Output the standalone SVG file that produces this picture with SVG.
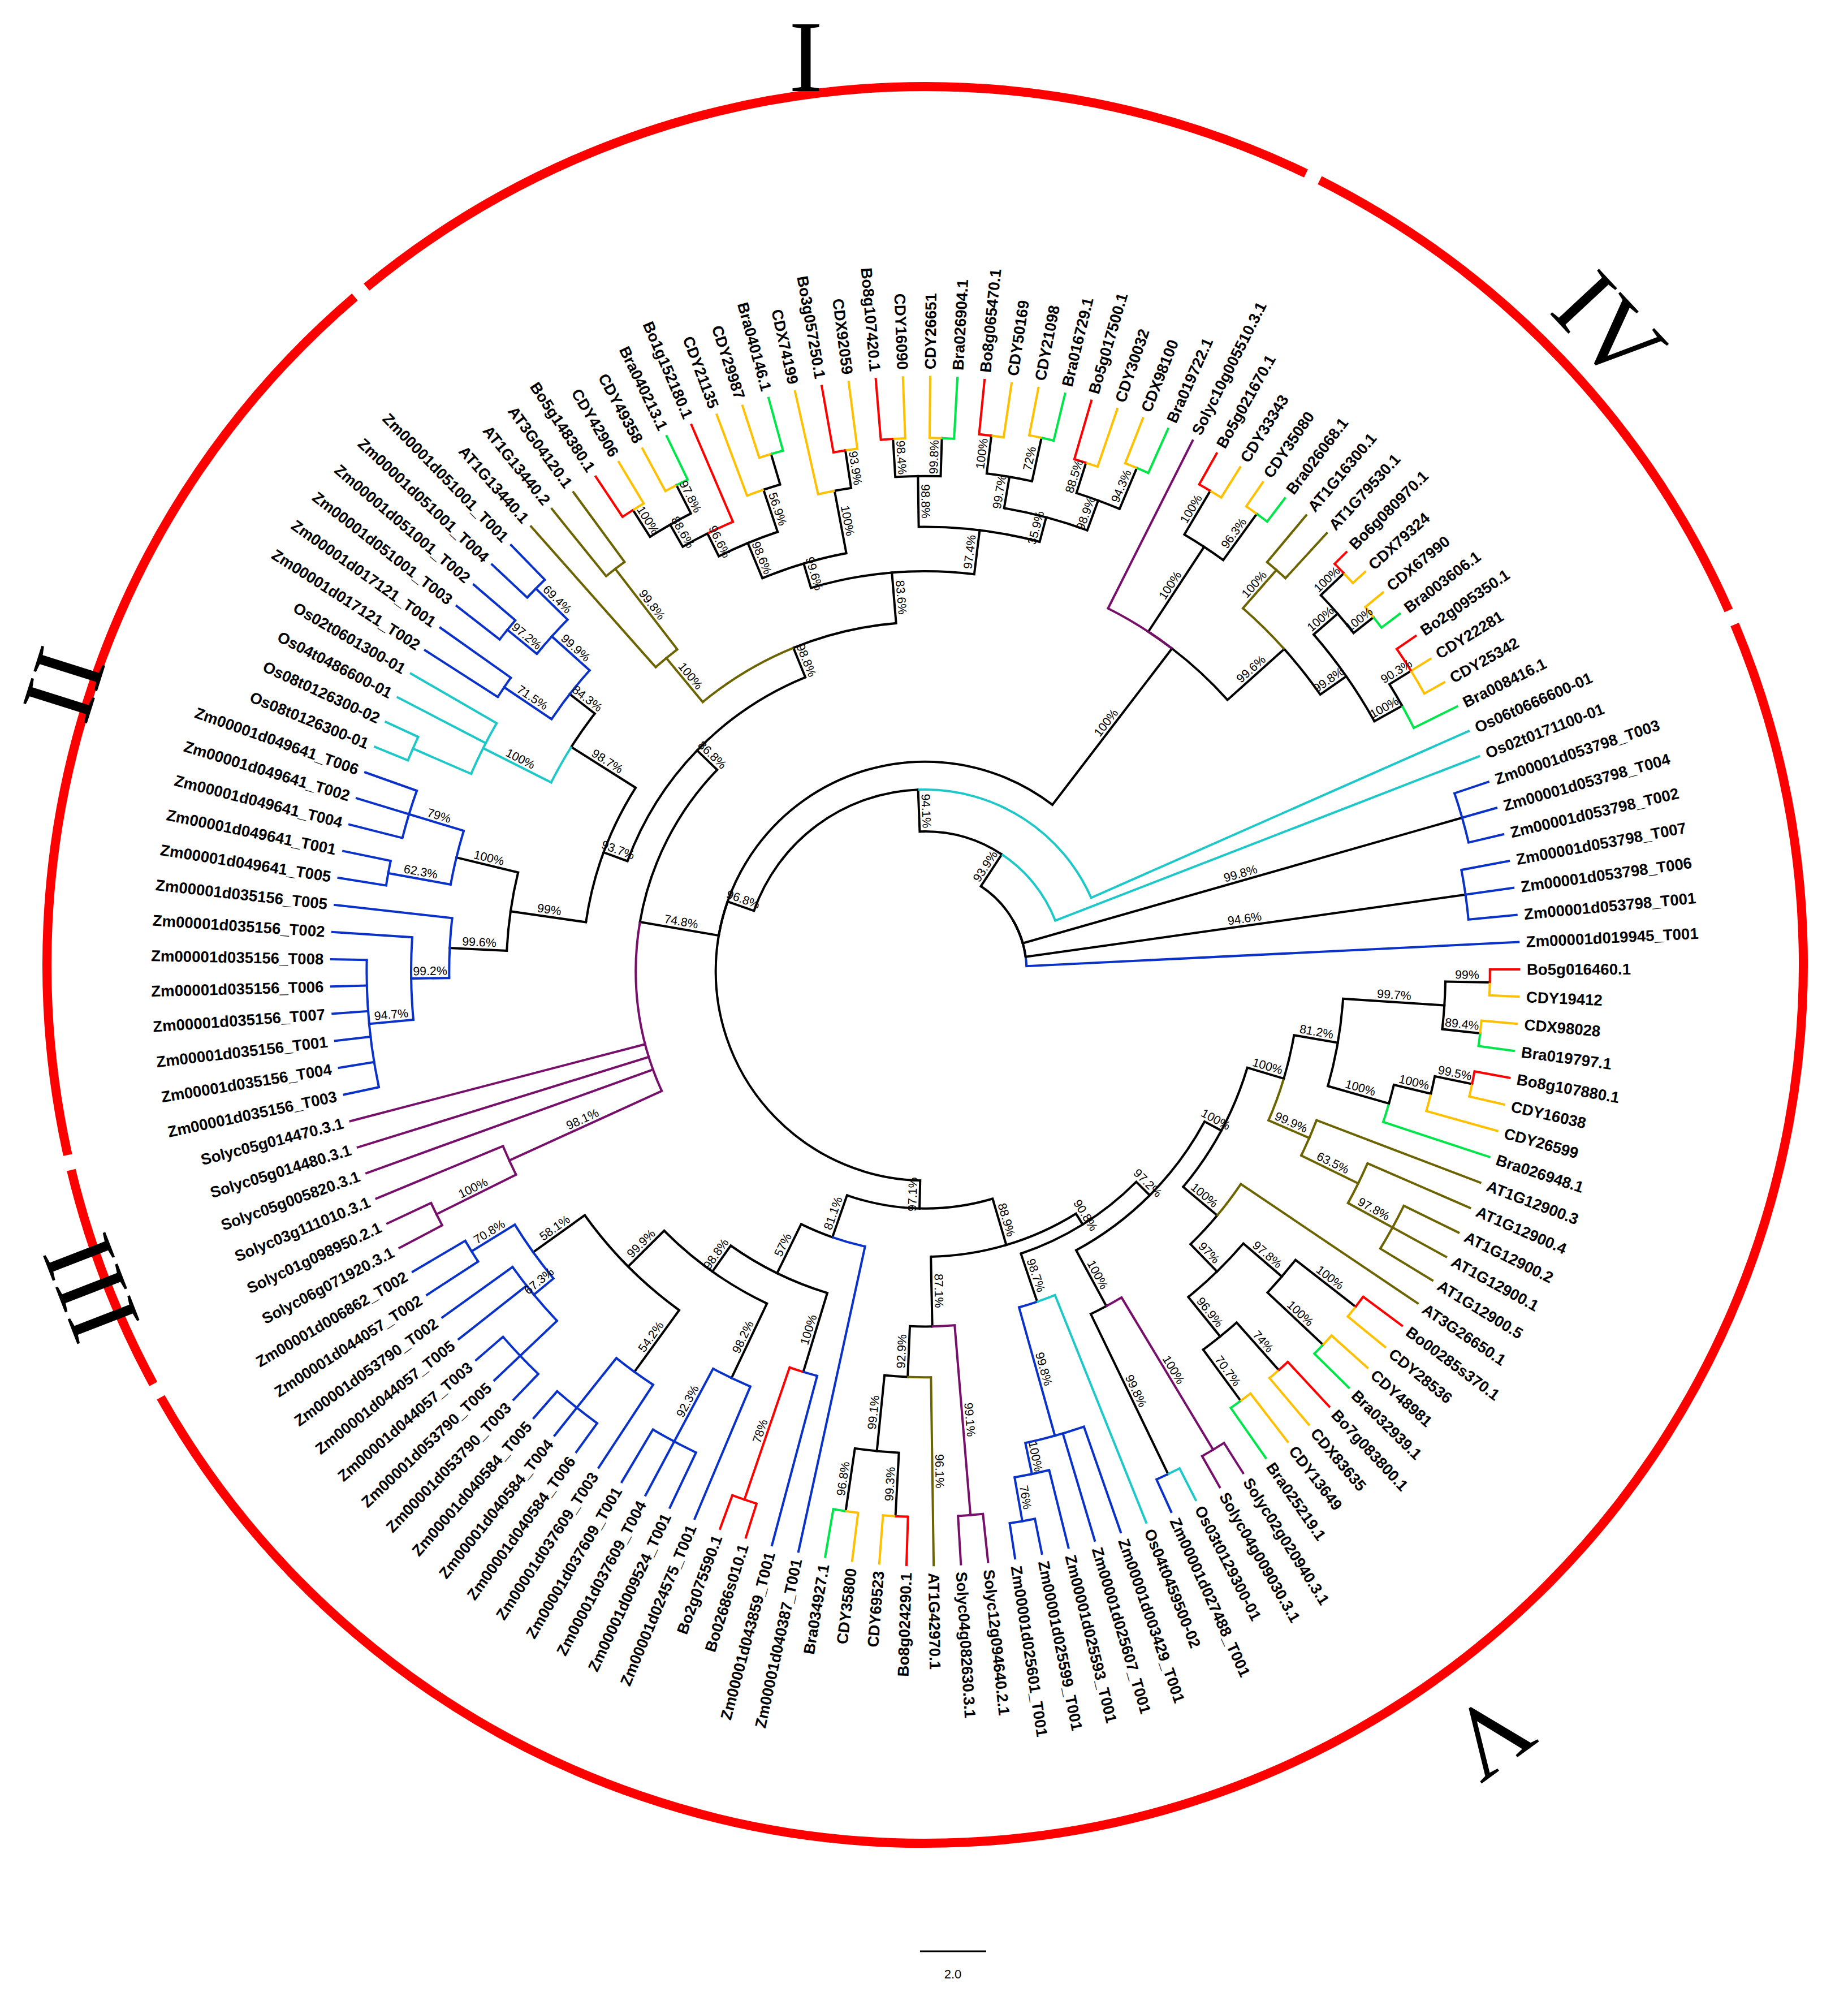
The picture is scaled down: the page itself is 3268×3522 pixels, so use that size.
<svg xmlns="http://www.w3.org/2000/svg" width="3268" height="3522" viewBox="0 0 3268 3522">
<style>
.e,.a,.l{transform-box:view-box;transform-origin:0 0}
.e{transform:translate(1636px,1717px) scale(2.2445) rotate(calc(-0.1723deg - var(--p) * 2.6277deg))}
.l{transform:translate(1636px,1717px) scale(2.2445) rotate(calc(179.8277deg - var(--p) * 2.6277deg))}
.a{transform:translate(1636px,1717px) scale(2.2445) rotate(-0.1723deg) scale(1,-1)}
path.e{fill:none;stroke-width:1.8;stroke-linecap:square}
circle.a{fill:none;stroke-width:1.8}
.k{stroke:#000}.R{stroke:#ff0000}.Y{stroke:#ffc000}.G{stroke:#00e64a}.B{stroke:#0a32c8}.C{stroke:#1ec8c8}.P{stroke:#76106a}.O{stroke:#6b6400}
text.t{font-family:"Liberation Sans",Arial,sans-serif;font-weight:bold;font-size:12.3px;fill:#000}
text.s{font-family:"Liberation Sans",Arial,sans-serif;font-size:9.5px;fill:#000}
text.rn{font-family:"Liberation Serif","Times New Roman",serif;font-size:180px;fill:#000}
</style>
<rect width="3268" height="3522" fill="#fff"/>
<g id="ring" fill="none" stroke="#ff0000" stroke-width="16">
<circle cx="1636" cy="1706" r="1553" pathLength="360" stroke-dasharray="15 400" transform="rotate(151.5 1636 1706)"/>
<circle cx="1636" cy="1706" r="1553" pathLength="360" stroke-dasharray="62 400" transform="rotate(167.5 1636 1706)"/>
<circle cx="1636" cy="1706" r="1553" pathLength="360" stroke-dasharray="65.2 400" transform="rotate(230.5 1636 1706)"/>
<circle cx="1636" cy="1706" r="1553" pathLength="360" stroke-dasharray="39.5 400" transform="rotate(296.7 1636 1706)"/>
<circle cx="1636" cy="1706" r="1553" pathLength="360" stroke-dasharray="173.3 400" transform="rotate(337.2 1636 1706)"/>
</g>
<g id="clade-labels">
<text class="rn" text-anchor="middle" dominant-baseline="central" transform="translate(1425,100)">I</text>
<text class="rn" text-anchor="middle" dominant-baseline="central" transform="translate(112,1210) rotate(-72.5)">II</text>
<text class="rn" text-anchor="middle" dominant-baseline="central" transform="translate(160,2278) rotate(-111.2)">III</text>
<text class="rn" text-anchor="middle" dominant-baseline="central" transform="translate(2846,579) rotate(47)">IV</text>
<text class="rn" text-anchor="middle" dominant-baseline="central" transform="translate(2637,3070) rotate(143.7)">V</text>
</g>
<g id="connectors">
<path class="e B" style="--p:1" d="M80 0H468"/><circle class="a B" r="80" pathLength="137" stroke-dasharray="10.26 200" stroke-dashoffset="-1"/>
<path class="e k" style="--p:3" d="M80 0H430"/><circle class="a k" r="80" pathLength="137" stroke-dasharray="8.26 200" stroke-dashoffset="-3"/>
<path class="e k" style="--p:6" d="M80 0H440"/><circle class="a k" r="80" pathLength="137" stroke-dasharray="5.26 200" stroke-dashoffset="-6"/>
<path class="e k" style="--p:21.51" d="M80 0H110"/><circle class="a k" r="80" pathLength="137" stroke-dasharray="10.25 200" stroke-dashoffset="-11.26"/>
<path class="e B" style="--p:2" d="M430 0H468"/><path class="e B" style="--p:3" d="M430 0H468"/><path class="e B" style="--p:4" d="M430 0H468"/>
<circle class="a B" r="430" pathLength="137" stroke-dasharray="2 200" stroke-dashoffset="-2"/>
<path class="e B" style="--p:5" d="M440 0H468"/><path class="e B" style="--p:6" d="M440 0H468"/><path class="e B" style="--p:7" d="M440 0H468"/>
<circle class="a B" r="440" pathLength="137" stroke-dasharray="2 200" stroke-dashoffset="-5"/>
<path class="e C" style="--p:8" d="M110 0H468"/><circle class="a C" r="110" pathLength="137" stroke-dasharray="13.51 200" stroke-dashoffset="-8"/>
<path class="e k" style="--p:35.03" d="M110 0H143"/><circle class="a k" r="110" pathLength="137" stroke-dasharray="13.52 200" stroke-dashoffset="-21.51"/>
<path class="e C" style="--p:9" d="M143 0H468"/><circle class="a C" r="143" pathLength="137" stroke-dasharray="26.03 200" stroke-dashoffset="-9"/>
<path class="e k" style="--p:61.055" d="M143 0H165"/><circle class="a k" r="143" pathLength="137" stroke-dasharray="26.025 200" stroke-dashoffset="-35.03"/>
<path class="e k" style="--p:19.94" d="M165 0H320"/><circle class="a k" r="165" pathLength="137" stroke-dasharray="41.115 200" stroke-dashoffset="-19.94"/>
<path class="e k" style="--p:64.71" d="M165 0H228"/><circle class="a k" r="165" pathLength="137" stroke-dasharray="3.655 200" stroke-dashoffset="-61.055"/>
<path class="e k" style="--p:102.17" d="M165 0H187"/><circle class="a k" r="165" pathLength="137" stroke-dasharray="41.115 200" stroke-dashoffset="-61.055"/>
<path class="e k" style="--p:15.875" d="M320 0H380"/><circle class="a k" r="320" pathLength="137" stroke-dasharray="4.065 200" stroke-dashoffset="-15.875"/>
<path class="e k" style="--p:21.5" d="M320 0H400"/><circle class="a k" r="320" pathLength="137" stroke-dasharray="1.56 200" stroke-dashoffset="-19.94"/>
<path class="e P" style="--p:24" d="M320 0H468"/><circle class="a P" r="320" pathLength="137" stroke-dasharray="4.06 200" stroke-dashoffset="-19.94"/>
<path class="e k" style="--p:13.25" d="M380 0H405"/><circle class="a k" r="380" pathLength="137" stroke-dasharray="2.625 200" stroke-dashoffset="-13.25"/>
<path class="e O" style="--p:18.5" d="M380 0H420"/><circle class="a O" r="380" pathLength="137" stroke-dasharray="2.625 200" stroke-dashoffset="-15.875"/>
<path class="e k" style="--p:11" d="M405 0H430"/><circle class="a k" r="405" pathLength="137" stroke-dasharray="2.25 200" stroke-dashoffset="-11"/>
<path class="e k" style="--p:15.5" d="M405 0H430"/><circle class="a k" r="405" pathLength="137" stroke-dasharray="2.25 200" stroke-dashoffset="-13.25"/>
<path class="e G" style="--p:10" d="M430 0H468"/><circle class="a G" r="430" pathLength="137" stroke-dasharray="1 200" stroke-dashoffset="-10"/>
<path class="e k" style="--p:12" d="M430 0H450"/><circle class="a k" r="430" pathLength="137" stroke-dasharray="1 200" stroke-dashoffset="-11"/>
<path class="e Y" style="--p:11" d="M450 0H468"/><circle class="a Y" r="450" pathLength="137" stroke-dasharray="1 200" stroke-dashoffset="-11"/>
<path class="e Y" style="--p:12" d="M450 0H468"/>
<path class="e R" style="--p:13" d="M450 0H468"/><circle class="a R" r="450" pathLength="137" stroke-dasharray="1 200" stroke-dashoffset="-12"/>
<path class="e k" style="--p:14.5" d="M430 0H450"/><circle class="a k" r="430" pathLength="137" stroke-dasharray="1 200" stroke-dashoffset="-14.5"/>
<path class="e k" style="--p:16.5" d="M430 0H455"/><circle class="a k" r="430" pathLength="137" stroke-dasharray="1 200" stroke-dashoffset="-15.5"/>
<path class="e G" style="--p:14" d="M450 0H468"/><circle class="a G" r="450" pathLength="137" stroke-dasharray=".5 200" stroke-dashoffset="-14"/>
<path class="e Y" style="--p:15" d="M450 0H468"/><circle class="a Y" r="450" pathLength="137" stroke-dasharray=".5 200" stroke-dashoffset="-14.5"/>
<path class="e Y" style="--p:16" d="M455 0H468"/><circle class="a Y" r="455" pathLength="137" stroke-dasharray=".5 200" stroke-dashoffset="-16"/>
<path class="e R" style="--p:17" d="M455 0H468"/><circle class="a R" r="455" pathLength="137" stroke-dasharray=".5 200" stroke-dashoffset="-16.5"/>
<path class="e O" style="--p:18" d="M420 0H468"/><path class="e O" style="--p:19" d="M420 0H468"/><circle class="a O" r="420" pathLength="137" stroke-dasharray="1 200" stroke-dashoffset="-18"/>
<path class="e k" style="--p:20.5" d="M400 0H445"/><circle class="a k" r="400" pathLength="137" stroke-dasharray="1 200" stroke-dashoffset="-20.5"/>
<path class="e k" style="--p:22.5" d="M400 0H440"/><circle class="a k" r="400" pathLength="137" stroke-dasharray="1 200" stroke-dashoffset="-21.5"/>
<path class="e G" style="--p:20" d="M445 0H468"/><circle class="a G" r="445" pathLength="137" stroke-dasharray=".5 200" stroke-dashoffset="-20"/>
<path class="e Y" style="--p:21" d="M445 0H468"/><circle class="a Y" r="445" pathLength="137" stroke-dasharray=".5 200" stroke-dashoffset="-20.5"/>
<path class="e Y" style="--p:22" d="M440 0H468"/><circle class="a Y" r="440" pathLength="137" stroke-dasharray=".5 200" stroke-dashoffset="-22"/>
<path class="e R" style="--p:23" d="M440 0H468"/><circle class="a R" r="440" pathLength="137" stroke-dasharray=".5 200" stroke-dashoffset="-22.5"/>
<path class="e k" style="--p:51.67" d="M228 0H250"/><circle class="a k" r="228" pathLength="137" stroke-dasharray="13.04 200" stroke-dashoffset="-51.67"/>
<path class="e P" style="--p:74" d="M228 0H468"/><path class="e P" style="--p:75" d="M228 0H468"/><path class="e P" style="--p:76" d="M228 0H468"/>
<circle class="a P" r="228" pathLength="137" stroke-dasharray="13.04 200" stroke-dashoffset="-64.71"/>
<path class="e P" style="--p:77.75" d="M228 0H360"/>
<path class="e P" style="--p:77" d="M360 0H468"/><circle class="a P" r="360" pathLength="137" stroke-dasharray="1.5 200" stroke-dashoffset="-77"/>
<path class="e P" style="--p:78.5" d="M360 0H430"/>
<path class="e P" style="--p:78" d="M430 0H468"/><path class="e P" style="--p:79" d="M430 0H468"/><circle class="a P" r="430" pathLength="137" stroke-dasharray="1 200" stroke-dashoffset="-78"/>
<path class="e k" style="--p:42.625" d="M250 0H275"/><path class="e k" style="--p:60.72" d="M250 0H270"/>
<circle class="a k" r="250" pathLength="137" stroke-dasharray="18.095 200" stroke-dashoffset="-42.625"/>
<path class="e k" style="--p:36" d="M275 0H315"/><circle class="a k" r="275" pathLength="137" stroke-dasharray="6.625 200" stroke-dashoffset="-36"/>
<path class="e O" style="--p:49.25" d="M275 0H320"/><circle class="a O" r="275" pathLength="137" stroke-dasharray="6.625 200" stroke-dashoffset="-42.625"/>
<path class="e O" style="--p:48.5" d="M320 0H400"/><path class="e O" style="--p:50" d="M320 0H468"/><circle class="a O" r="320" pathLength="137" stroke-dasharray="1.5 200" stroke-dashoffset="-48.5"/>
<path class="e O" style="--p:48" d="M400 0H468"/><path class="e O" style="--p:49" d="M400 0H468"/><circle class="a O" r="400" pathLength="137" stroke-dasharray="1 200" stroke-dashoffset="-48"/>
<path class="e k" style="--p:31.5" d="M315 0H350"/><path class="e k" style="--p:40.5" d="M315 0H335"/><circle class="a k" r="315" pathLength="137" stroke-dasharray="9 200" stroke-dashoffset="-31.5"/>
<path class="e k" style="--p:28.5" d="M350 0H370"/><path class="e k" style="--p:34.5" d="M350 0H390"/><circle class="a k" r="350" pathLength="137" stroke-dasharray="6 200" stroke-dashoffset="-28.5"/>
<path class="e k" style="--p:26.5" d="M370 0H395"/><path class="e k" style="--p:30.5" d="M370 0H395"/><circle class="a k" r="370" pathLength="137" stroke-dasharray="4 200" stroke-dashoffset="-26.5"/>
<path class="e k" style="--p:25.5" d="M395 0H430"/><path class="e k" style="--p:27.5" d="M395 0H420"/><circle class="a k" r="395" pathLength="137" stroke-dasharray="2 200" stroke-dashoffset="-25.5"/>
<path class="e G" style="--p:25" d="M430 0H468"/><circle class="a G" r="430" pathLength="137" stroke-dasharray=".5 200" stroke-dashoffset="-25"/>
<path class="e Y" style="--p:26" d="M430 0H468"/><circle class="a Y" r="430" pathLength="137" stroke-dasharray=".5 200" stroke-dashoffset="-25.5"/>
<path class="e Y" style="--p:27" d="M420 0H468"/><circle class="a Y" r="420" pathLength="137" stroke-dasharray=".5 200" stroke-dashoffset="-27"/>
<path class="e R" style="--p:28" d="M420 0H468"/><circle class="a R" r="420" pathLength="137" stroke-dasharray=".5 200" stroke-dashoffset="-27.5"/>
<path class="e k" style="--p:29.5" d="M395 0H430"/><path class="e k" style="--p:31.5" d="M395 0H425"/><circle class="a k" r="395" pathLength="137" stroke-dasharray="2 200" stroke-dashoffset="-29.5"/>
<path class="e G" style="--p:29" d="M430 0H468"/><circle class="a G" r="430" pathLength="137" stroke-dasharray=".5 200" stroke-dashoffset="-29"/>
<path class="e Y" style="--p:30" d="M430 0H468"/><circle class="a Y" r="430" pathLength="137" stroke-dasharray=".5 200" stroke-dashoffset="-29.5"/>
<path class="e Y" style="--p:31" d="M425 0H468"/><circle class="a Y" r="425" pathLength="137" stroke-dasharray=".5 200" stroke-dashoffset="-31"/>
<path class="e R" style="--p:32" d="M425 0H468"/><circle class="a R" r="425" pathLength="137" stroke-dasharray=".5 200" stroke-dashoffset="-31.5"/>
<path class="e k" style="--p:33.5" d="M390 0H420"/><path class="e k" style="--p:35.5" d="M390 0H420"/><circle class="a k" r="390" pathLength="137" stroke-dasharray="2 200" stroke-dashoffset="-33.5"/>
<path class="e G" style="--p:33" d="M420 0H468"/><circle class="a G" r="420" pathLength="137" stroke-dasharray=".5 200" stroke-dashoffset="-33"/>
<path class="e Y" style="--p:34" d="M420 0H468"/><circle class="a Y" r="420" pathLength="137" stroke-dasharray=".5 200" stroke-dashoffset="-33.5"/>
<path class="e Y" style="--p:35" d="M420 0H468"/><circle class="a Y" r="420" pathLength="137" stroke-dasharray=".5 200" stroke-dashoffset="-35"/>
<path class="e R" style="--p:36" d="M420 0H468"/><circle class="a R" r="420" pathLength="137" stroke-dasharray=".5 200" stroke-dashoffset="-35.5"/>
<path class="e k" style="--p:38.25" d="M335 0H385"/><path class="e k" style="--p:42.75" d="M335 0H365"/><circle class="a k" r="335" pathLength="137" stroke-dasharray="4.5 200" stroke-dashoffset="-38.25"/>
<path class="e k" style="--p:37.5" d="M385 0H415"/><circle class="a k" r="385" pathLength="137" stroke-dasharray=".75 200" stroke-dashoffset="-37.5"/>
<path class="e Y" style="--p:39" d="M385 0H468"/><circle class="a Y" r="385" pathLength="137" stroke-dasharray=".75 200" stroke-dashoffset="-38.25"/>
<path class="e Y" style="--p:37" d="M415 0H468"/><circle class="a Y" r="415" pathLength="137" stroke-dasharray=".5 200" stroke-dashoffset="-37"/>
<path class="e R" style="--p:38" d="M415 0H468"/><circle class="a R" r="415" pathLength="137" stroke-dasharray=".5 200" stroke-dashoffset="-37.5"/>
<path class="e k" style="--p:41.25" d="M365 0H400"/><path class="e k" style="--p:44.25" d="M365 0H385"/><circle class="a k" r="365" pathLength="137" stroke-dasharray="3 200" stroke-dashoffset="-41.25"/>
<path class="e k" style="--p:40.5" d="M400 0H425"/><circle class="a k" r="400" pathLength="137" stroke-dasharray=".75 200" stroke-dashoffset="-40.5"/>
<path class="e Y" style="--p:42" d="M400 0H468"/><circle class="a Y" r="400" pathLength="137" stroke-dasharray=".75 200" stroke-dashoffset="-41.25"/>
<path class="e G" style="--p:40" d="M425 0H468"/><circle class="a G" r="425" pathLength="137" stroke-dasharray=".5 200" stroke-dashoffset="-40"/>
<path class="e Y" style="--p:41" d="M425 0H468"/><circle class="a Y" r="425" pathLength="137" stroke-dasharray=".5 200" stroke-dashoffset="-40.5"/>
<path class="e R" style="--p:43" d="M385 0H468"/><circle class="a R" r="385" pathLength="137" stroke-dasharray="1.25 200" stroke-dashoffset="-43"/>
<path class="e k" style="--p:45.5" d="M385 0H405"/><circle class="a k" r="385" pathLength="137" stroke-dasharray="1.25 200" stroke-dashoffset="-44.25"/>
<path class="e k" style="--p:44.5" d="M405 0H430"/><path class="e k" style="--p:46.5" d="M405 0H430"/><circle class="a k" r="405" pathLength="137" stroke-dasharray="2 200" stroke-dashoffset="-44.5"/>
<path class="e G" style="--p:44" d="M430 0H468"/><circle class="a G" r="430" pathLength="137" stroke-dasharray=".5 200" stroke-dashoffset="-44"/>
<path class="e Y" style="--p:45" d="M430 0H468"/><circle class="a Y" r="430" pathLength="137" stroke-dasharray=".5 200" stroke-dashoffset="-44.5"/>
<path class="e Y" style="--p:46" d="M430 0H468"/><circle class="a Y" r="430" pathLength="137" stroke-dasharray=".5 200" stroke-dashoffset="-46"/>
<path class="e R" style="--p:47" d="M430 0H468"/><circle class="a R" r="430" pathLength="137" stroke-dasharray=".5 200" stroke-dashoffset="-46.5"/>
<path class="e k" style="--p:56.125" d="M270 0H330"/><path class="e k" style="--p:65.3125" d="M270 0H330"/><circle class="a k" r="270" pathLength="137" stroke-dasharray="9.1875 200" stroke-dashoffset="-56.125"/>
<path class="e k" style="--p:54" d="M330 0H355"/><circle class="a k" r="330" pathLength="137" stroke-dasharray="2.125 200" stroke-dashoffset="-54"/>
<path class="e C" style="--p:58.25" d="M330 0H390"/><circle class="a C" r="330" pathLength="137" stroke-dasharray="2.125 200" stroke-dashoffset="-56.125"/>
<path class="e B" style="--p:52.5" d="M355 0H395"/><path class="e B" style="--p:55.5" d="M355 0H400"/><circle class="a B" r="355" pathLength="137" stroke-dasharray="3 200" stroke-dashoffset="-52.5"/>
<path class="e B" style="--p:51.5" d="M395 0H430"/><path class="e B" style="--p:53.5" d="M395 0H425"/><circle class="a B" r="395" pathLength="137" stroke-dasharray="2 200" stroke-dashoffset="-51.5"/>
<path class="e B" style="--p:51" d="M430 0H468"/><path class="e B" style="--p:52" d="M430 0H468"/><circle class="a B" r="430" pathLength="137" stroke-dasharray="1 200" stroke-dashoffset="-51"/>
<path class="e B" style="--p:53" d="M425 0H468"/><path class="e B" style="--p:54" d="M425 0H468"/><circle class="a B" r="425" pathLength="137" stroke-dasharray="1 200" stroke-dashoffset="-53"/>
<path class="e B" style="--p:55" d="M400 0H468"/><path class="e B" style="--p:56" d="M400 0H468"/><circle class="a B" r="400" pathLength="137" stroke-dasharray="1 200" stroke-dashoffset="-55"/>
<path class="e C" style="--p:57" d="M390 0H468"/><path class="e C" style="--p:58" d="M390 0H468"/><path class="e C" style="--p:59.5" d="M390 0H440"/><circle class="a C" r="390" pathLength="137" stroke-dasharray="2.5 200" stroke-dashoffset="-57"/>
<path class="e C" style="--p:59" d="M440 0H468"/><path class="e C" style="--p:60" d="M440 0H468"/><circle class="a C" r="440" pathLength="137" stroke-dasharray="1 200" stroke-dashoffset="-59"/>
<path class="e k" style="--p:63.25" d="M330 0H380"/><path class="e k" style="--p:67.375" d="M330 0H375"/><circle class="a k" r="330" pathLength="137" stroke-dasharray="4.125 200" stroke-dashoffset="-63.25"/>
<path class="e B" style="--p:62" d="M380 0H425"/><path class="e B" style="--p:64.5" d="M380 0H430"/><circle class="a B" r="380" pathLength="137" stroke-dasharray="2.5 200" stroke-dashoffset="-62"/>
<path class="e B" style="--p:61" d="M425 0H468"/><path class="e B" style="--p:62" d="M425 0H468"/><path class="e B" style="--p:63" d="M425 0H468"/><circle class="a B" r="425" pathLength="137" stroke-dasharray="2 200" stroke-dashoffset="-61"/>
<path class="e B" style="--p:64" d="M430 0H468"/><path class="e B" style="--p:65" d="M430 0H468"/><circle class="a B" r="430" pathLength="137" stroke-dasharray="1 200" stroke-dashoffset="-64"/>
<path class="e B" style="--p:66" d="M375 0H468"/><path class="e B" style="--p:68.75" d="M375 0H405"/><circle class="a B" r="375" pathLength="137" stroke-dasharray="2.75 200" stroke-dashoffset="-66"/>
<path class="e B" style="--p:67" d="M405 0H468"/><path class="e B" style="--p:70.5" d="M405 0H440"/><circle class="a B" r="405" pathLength="137" stroke-dasharray="3.5 200" stroke-dashoffset="-67"/>
<path class="e B" style="--p:68" d="M440 0H468"/><path class="e B" style="--p:69" d="M440 0H468"/><path class="e B" style="--p:70" d="M440 0H468"/><path class="e B" style="--p:71" d="M440 0H468"/><path class="e B" style="--p:72" d="M440 0H468"/><path class="e B" style="--p:73" d="M440 0H468"/>
<circle class="a B" r="440" pathLength="137" stroke-dasharray="5 200" stroke-dashoffset="-68"/>
<path class="e k" style="--p:95.375" d="M187 0H222"/><path class="e k" style="--p:108.97" d="M187 0H225"/><circle class="a k" r="187" pathLength="137" stroke-dasharray="13.595 200" stroke-dashoffset="-95.375"/>
<path class="e k" style="--p:92.75" d="M222 0H265"/><circle class="a k" r="222" pathLength="137" stroke-dasharray="2.625 200" stroke-dashoffset="-92.75"/>
<path class="e B" style="--p:98" d="M222 0H468"/><circle class="a B" r="222" pathLength="137" stroke-dasharray="2.625 200" stroke-dashoffset="-95.375"/>
<path class="e k" style="--p:89.25" d="M265 0H290"/><path class="e k" style="--p:96.25" d="M265 0H330"/><circle class="a k" r="265" pathLength="137" stroke-dasharray="7 200" stroke-dashoffset="-89.25"/>
<path class="e k" style="--p:85.5" d="M290 0H330"/><path class="e k" style="--p:93" d="M290 0H355"/><circle class="a k" r="290" pathLength="137" stroke-dasharray="7.5 200" stroke-dashoffset="-85.5"/>
<path class="e k" style="--p:82" d="M330 0H380"/><path class="e k" style="--p:89" d="M330 0H390"/><circle class="a k" r="330" pathLength="137" stroke-dasharray="7 200" stroke-dashoffset="-82"/>
<path class="e B" style="--p:80.5" d="M380 0H420"/><path class="e B" style="--p:83.5" d="M380 0H400"/><circle class="a B" r="380" pathLength="137" stroke-dasharray="3 200" stroke-dashoffset="-80.5"/>
<path class="e B" style="--p:80" d="M420 0H468"/><path class="e B" style="--p:81" d="M420 0H468"/><circle class="a B" r="420" pathLength="137" stroke-dasharray="1 200" stroke-dashoffset="-80"/>
<path class="e B" style="--p:82" d="M400 0H468"/><path class="e B" style="--p:83" d="M400 0H468"/><path class="e B" style="--p:85" d="M400 0H440"/><circle class="a B" r="400" pathLength="137" stroke-dasharray="3 200" stroke-dashoffset="-82"/>
<path class="e B" style="--p:84" d="M440 0H468"/><path class="e B" style="--p:85" d="M440 0H468"/><path class="e B" style="--p:86" d="M440 0H468"/><circle class="a B" r="440" pathLength="137" stroke-dasharray="2 200" stroke-dashoffset="-84"/>
<path class="e B" style="--p:88" d="M390 0H440"/><path class="e B" style="--p:90" d="M390 0H468"/><circle class="a B" r="390" pathLength="137" stroke-dasharray="2 200" stroke-dashoffset="-88"/>
<path class="e B" style="--p:87" d="M440 0H468"/><path class="e B" style="--p:88" d="M440 0H468"/><path class="e B" style="--p:89" d="M440 0H468"/><circle class="a B" r="440" pathLength="137" stroke-dasharray="2 200" stroke-dashoffset="-87"/>
<path class="e B" style="--p:92" d="M355 0H420"/><path class="e B" style="--p:94" d="M355 0H468"/><circle class="a B" r="355" pathLength="137" stroke-dasharray="2 200" stroke-dashoffset="-92"/>
<path class="e B" style="--p:91" d="M420 0H468"/><path class="e B" style="--p:92" d="M420 0H468"/><path class="e B" style="--p:93" d="M420 0H468"/><circle class="a B" r="420" pathLength="137" stroke-dasharray="2 200" stroke-dashoffset="-91"/>
<path class="e R" style="--p:95.5" d="M330 0H440"/><circle class="a R" r="330" pathLength="137" stroke-dasharray=".75 200" stroke-dashoffset="-95.5"/>
<path class="e B" style="--p:97" d="M330 0H468"/><circle class="a B" r="330" pathLength="137" stroke-dasharray=".75 200" stroke-dashoffset="-96.25"/>
<path class="e R" style="--p:95" d="M440 0H468"/><path class="e R" style="--p:96" d="M440 0H468"/><circle class="a R" r="440" pathLength="137" stroke-dasharray="1 200" stroke-dashoffset="-95"/>
<path class="e k" style="--p:103.125" d="M225 0H280"/><path class="e k" style="--p:114.82" d="M225 0H235"/><circle class="a k" r="225" pathLength="137" stroke-dasharray="11.695 200" stroke-dashoffset="-103.125"/>
<path class="e k" style="--p:101.75" d="M280 0H320"/><circle class="a k" r="280" pathLength="137" stroke-dasharray="1.375 200" stroke-dashoffset="-101.75"/>
<path class="e P" style="--p:104.5" d="M280 0H430"/><circle class="a P" r="280" pathLength="137" stroke-dasharray="1.375 200" stroke-dashoffset="-103.125"/>
<path class="e k" style="--p:100.5" d="M320 0H380"/><circle class="a k" r="320" pathLength="137" stroke-dasharray="1.25 200" stroke-dashoffset="-100.5"/>
<path class="e O" style="--p:103" d="M320 0H468"/><circle class="a O" r="320" pathLength="137" stroke-dasharray="1.25 200" stroke-dashoffset="-101.75"/>
<path class="e k" style="--p:99.5" d="M380 0H430"/><path class="e k" style="--p:101.5" d="M380 0H430"/><circle class="a k" r="380" pathLength="137" stroke-dasharray="2 200" stroke-dashoffset="-99.5"/>
<path class="e G" style="--p:99" d="M430 0H468"/><circle class="a G" r="430" pathLength="137" stroke-dasharray=".5 200" stroke-dashoffset="-99"/>
<path class="e Y" style="--p:100" d="M430 0H468"/><circle class="a Y" r="430" pathLength="137" stroke-dasharray=".5 200" stroke-dashoffset="-99.5"/>
<path class="e Y" style="--p:101" d="M430 0H468"/><circle class="a Y" r="430" pathLength="137" stroke-dasharray=".5 200" stroke-dashoffset="-101"/>
<path class="e R" style="--p:102" d="M430 0H468"/><circle class="a R" r="430" pathLength="137" stroke-dasharray=".5 200" stroke-dashoffset="-101.5"/>
<path class="e P" style="--p:104" d="M430 0H468"/><path class="e P" style="--p:105" d="M430 0H468"/><circle class="a P" r="430" pathLength="137" stroke-dasharray="1 200" stroke-dashoffset="-104"/>
<path class="e k" style="--p:109.8125" d="M235 0H275"/><path class="e k" style="--p:119.835" d="M235 0H250"/><circle class="a k" r="235" pathLength="137" stroke-dasharray="10.0225 200" stroke-dashoffset="-109.8125"/>
<path class="e B" style="--p:108.625" d="M275 0H380"/><circle class="a B" r="275" pathLength="137" stroke-dasharray="1.1875 200" stroke-dashoffset="-108.625"/>
<path class="e C" style="--p:111" d="M275 0H468"/><circle class="a C" r="275" pathLength="137" stroke-dasharray="1.1875 200" stroke-dashoffset="-109.8125"/>
<path class="e B" style="--p:107.25" d="M380 0H405"/><path class="e B" style="--p:109" d="M380 0H468"/><path class="e B" style="--p:110" d="M380 0H468"/><circle class="a B" r="380" pathLength="137" stroke-dasharray="2.75 200" stroke-dashoffset="-107.25"/>
<path class="e B" style="--p:106.5" d="M405 0H440"/><path class="e B" style="--p:108" d="M405 0H468"/><circle class="a B" r="405" pathLength="137" stroke-dasharray="1.5 200" stroke-dashoffset="-106.5"/>
<path class="e B" style="--p:106" d="M440 0H468"/><path class="e B" style="--p:107" d="M440 0H468"/><circle class="a B" r="440" pathLength="137" stroke-dasharray="1 200" stroke-dashoffset="-106"/>
<path class="e k" style="--p:113.5" d="M250 0H300"/><path class="e k" style="--p:126.17" d="M250 0H265"/><circle class="a k" r="250" pathLength="137" stroke-dasharray="12.67 200" stroke-dashoffset="-113.5"/>
<path class="e k" style="--p:112.5" d="M300 0H440"/><circle class="a k" r="300" pathLength="137" stroke-dasharray="1 200" stroke-dashoffset="-112.5"/>
<path class="e P" style="--p:114.5" d="M300 0H440"/><circle class="a P" r="300" pathLength="137" stroke-dasharray="1 200" stroke-dashoffset="-113.5"/>
<path class="e B" style="--p:112" d="M440 0H468"/><circle class="a B" r="440" pathLength="137" stroke-dasharray=".5 200" stroke-dashoffset="-112"/>
<path class="e C" style="--p:113" d="M440 0H468"/><circle class="a C" r="440" pathLength="137" stroke-dasharray=".5 200" stroke-dashoffset="-112.5"/>
<path class="e P" style="--p:114" d="M440 0H468"/><path class="e P" style="--p:115" d="M440 0H468"/><circle class="a P" r="440" pathLength="137" stroke-dasharray="1 200" stroke-dashoffset="-114"/>
<path class="e k" style="--p:121.75" d="M265 0H300"/><path class="e k" style="--p:130.59" d="M265 0H295"/><circle class="a k" r="265" pathLength="137" stroke-dasharray="8.84 200" stroke-dashoffset="-121.75"/>
<path class="e k" style="--p:119.5" d="M300 0H330"/><circle class="a k" r="300" pathLength="137" stroke-dasharray="2.25 200" stroke-dashoffset="-119.5"/>
<path class="e O" style="--p:124" d="M300 0H468"/><circle class="a O" r="300" pathLength="137" stroke-dasharray="2.25 200" stroke-dashoffset="-121.75"/>
<path class="e k" style="--p:117.5" d="M330 0H370"/><path class="e k" style="--p:121.5" d="M330 0H370"/><circle class="a k" r="330" pathLength="137" stroke-dasharray="4 200" stroke-dashoffset="-117.5"/>
<path class="e k" style="--p:116.5" d="M370 0H420"/><path class="e k" style="--p:118.5" d="M370 0H420"/><circle class="a k" r="370" pathLength="137" stroke-dasharray="2 200" stroke-dashoffset="-116.5"/>
<path class="e k" style="--p:120.5" d="M370 0H430"/><path class="e k" style="--p:122.5" d="M370 0H430"/><circle class="a k" r="370" pathLength="137" stroke-dasharray="2 200" stroke-dashoffset="-120.5"/>
<path class="e G" style="--p:116" d="M420 0H468"/><circle class="a G" r="420" pathLength="137" stroke-dasharray=".5 200" stroke-dashoffset="-116"/>
<path class="e Y" style="--p:117" d="M420 0H468"/><circle class="a Y" r="420" pathLength="137" stroke-dasharray=".5 200" stroke-dashoffset="-116.5"/>
<path class="e Y" style="--p:118" d="M420 0H468"/><circle class="a Y" r="420" pathLength="137" stroke-dasharray=".5 200" stroke-dashoffset="-118"/>
<path class="e R" style="--p:119" d="M420 0H468"/><circle class="a R" r="420" pathLength="137" stroke-dasharray=".5 200" stroke-dashoffset="-118.5"/>
<path class="e G" style="--p:120" d="M430 0H468"/><circle class="a G" r="430" pathLength="137" stroke-dasharray=".5 200" stroke-dashoffset="-120"/>
<path class="e Y" style="--p:121" d="M430 0H468"/><circle class="a Y" r="430" pathLength="137" stroke-dasharray=".5 200" stroke-dashoffset="-120.5"/>
<path class="e Y" style="--p:122" d="M430 0H468"/><circle class="a Y" r="430" pathLength="137" stroke-dasharray=".5 200" stroke-dashoffset="-122"/>
<path class="e R" style="--p:123" d="M430 0H468"/><circle class="a R" r="430" pathLength="137" stroke-dasharray=".5 200" stroke-dashoffset="-122.5"/>
<path class="e O" style="--p:128" d="M295 0H330"/><circle class="a O" r="295" pathLength="137" stroke-dasharray="2.59 200" stroke-dashoffset="-128"/>
<path class="e k" style="--p:133.1875" d="M295 0H330"/><circle class="a k" r="295" pathLength="137" stroke-dasharray="2.5975 200" stroke-dashoffset="-130.59"/>
<path class="e O" style="--p:127" d="M330 0H380"/><path class="e O" style="--p:129" d="M330 0H468"/><circle class="a O" r="330" pathLength="137" stroke-dasharray="2 200" stroke-dashoffset="-127"/>
<path class="e O" style="--p:126" d="M380 0H420"/><path class="e O" style="--p:128" d="M380 0H468"/><circle class="a O" r="380" pathLength="137" stroke-dasharray="2 200" stroke-dashoffset="-126"/>
<path class="e O" style="--p:125" d="M420 0H468"/><path class="e O" style="--p:126" d="M420 0H468"/><path class="e O" style="--p:127" d="M420 0H468"/><circle class="a O" r="420" pathLength="137" stroke-dasharray="2 200" stroke-dashoffset="-125"/>
<path class="e k" style="--p:130.875" d="M330 0H380"/><path class="e k" style="--p:135.5" d="M330 0H410"/><circle class="a k" r="330" pathLength="137" stroke-dasharray="4.625 200" stroke-dashoffset="-130.875"/>
<path class="e G" style="--p:130" d="M380 0H468"/><circle class="a G" r="380" pathLength="137" stroke-dasharray=".875 200" stroke-dashoffset="-130"/>
<path class="e k" style="--p:131.75" d="M380 0H410"/><circle class="a k" r="380" pathLength="137" stroke-dasharray=".875 200" stroke-dashoffset="-130.875"/>
<path class="e Y" style="--p:131" d="M410 0H468"/><circle class="a Y" r="410" pathLength="137" stroke-dasharray=".75 200" stroke-dashoffset="-131"/>
<path class="e k" style="--p:132.5" d="M410 0H440"/><circle class="a k" r="410" pathLength="137" stroke-dasharray=".75 200" stroke-dashoffset="-131.75"/>
<path class="e Y" style="--p:132" d="M440 0H468"/><circle class="a Y" r="440" pathLength="137" stroke-dasharray=".5 200" stroke-dashoffset="-132"/>
<path class="e R" style="--p:133" d="M440 0H468"/><circle class="a R" r="440" pathLength="137" stroke-dasharray=".5 200" stroke-dashoffset="-132.5"/>
<path class="e k" style="--p:134.5" d="M410 0H440"/><path class="e k" style="--p:136.5" d="M410 0H445"/><circle class="a k" r="410" pathLength="137" stroke-dasharray="2 200" stroke-dashoffset="-134.5"/>
<path class="e G" style="--p:134" d="M440 0H468"/><circle class="a G" r="440" pathLength="137" stroke-dasharray=".5 200" stroke-dashoffset="-134"/>
<path class="e Y" style="--p:135" d="M440 0H468"/><circle class="a Y" r="440" pathLength="137" stroke-dasharray=".5 200" stroke-dashoffset="-134.5"/>
<path class="e Y" style="--p:136" d="M445 0H468"/><circle class="a Y" r="445" pathLength="137" stroke-dasharray=".5 200" stroke-dashoffset="-136"/>
<path class="e R" style="--p:137" d="M445 0H468"/><circle class="a R" r="445" pathLength="137" stroke-dasharray=".5 200" stroke-dashoffset="-136.5"/>
</g>
<g id="support-values">
<text class="e s" style="--p:3" x="255" y="-2.5" text-anchor="middle">94.6%</text>
<text class="e s" style="--p:6" x="260" y="-2.5" text-anchor="middle">99.8%</text>
<text class="e s" style="--p:21.51" x="95" y="-2.5" text-anchor="middle">93.9%</text>
<text class="l s" style="--p:35.03" x="-126" y="-2.5" text-anchor="middle">94.1%</text>
<text class="l s" style="--p:61.055" x="-154" y="-2.5" text-anchor="middle">96.8%</text>
<text class="e s" style="--p:19.94" x="242" y="-2.5" text-anchor="middle">100%</text>
<text class="e s" style="--p:15.875" x="350" y="-2.5" text-anchor="middle">99.6%</text>
<text class="e s" style="--p:13.25" x="392" y="-2.5" text-anchor="middle">99.8%</text>
<text class="e s" style="--p:11" x="417" y="-2.5" text-anchor="middle">100%</text>
<text class="e s" style="--p:12" x="440" y="-2.5" text-anchor="middle">90.3%</text>
<text class="e s" style="--p:15.5" x="417" y="-2.5" text-anchor="middle">100%</text>
<text class="e s" style="--p:14.5" x="440" y="-2.5" text-anchor="middle">100%</text>
<text class="e s" style="--p:16.5" x="442" y="-2.5" text-anchor="middle">100%</text>
<text class="e s" style="--p:18.5" x="400" y="-2.5" text-anchor="middle">100%</text>
<text class="e s" style="--p:21.5" x="360" y="-2.5" text-anchor="middle">100%</text>
<text class="e s" style="--p:22.5" x="420" y="-2.5" text-anchor="middle">100%</text>
<text class="e s" style="--p:20.5" x="422" y="-2.5" text-anchor="middle">96.3%</text>
<text class="l s" style="--p:64.71" x="-196" y="-2.5" text-anchor="middle">74.8%</text>
<text class="l s" style="--p:51.67" x="-239" y="-2.5" text-anchor="middle">86.8%</text>
<text class="l s" style="--p:42.625" x="-262" y="-2.5" text-anchor="middle">98.8%</text>
<text class="l s" style="--p:49.25" x="-297" y="-2.5" text-anchor="middle">100%</text>
<text class="l s" style="--p:48.5" x="-360" y="-2.5" text-anchor="middle">99.8%</text>
<text class="l s" style="--p:36" x="-295" y="-2.5" text-anchor="middle">83.6%</text>
<text class="e s" style="--p:31.5" x="332" y="-2.5" text-anchor="middle">97.4%</text>
<text class="e s" style="--p:28.5" x="360" y="-2.5" text-anchor="middle">35.9%</text>
<text class="e s" style="--p:26.5" x="382" y="-2.5" text-anchor="middle">98.9%</text>
<text class="e s" style="--p:25.5" x="412" y="-2.5" text-anchor="middle">94.3%</text>
<text class="e s" style="--p:27.5" x="407" y="-2.5" text-anchor="middle">88.5%</text>
<text class="e s" style="--p:30.5" x="382" y="-2.5" text-anchor="middle">99.7%</text>
<text class="e s" style="--p:29.5" x="412" y="-2.5" text-anchor="middle">72%</text>
<text class="e s" style="--p:31.5" x="410" y="-2.5" text-anchor="middle">100%</text>
<text class="l s" style="--p:34.5" x="-370" y="-2.5" text-anchor="middle">98.8%</text>
<text class="e s" style="--p:33.5" x="405" y="-2.5" text-anchor="middle">99.8%</text>
<text class="l s" style="--p:35.5" x="-405" y="-2.5" text-anchor="middle">98.4%</text>
<text class="l s" style="--p:40.5" x="-325" y="-2.5" text-anchor="middle">99.6%</text>
<text class="l s" style="--p:38.25" x="-360" y="-2.5" text-anchor="middle">100%</text>
<text class="l s" style="--p:37.5" x="-400" y="-2.5" text-anchor="middle">93.9%</text>
<text class="l s" style="--p:42.75" x="-350" y="-2.5" text-anchor="middle">98.6%</text>
<text class="l s" style="--p:41.25" x="-382" y="-2.5" text-anchor="middle">56.9%</text>
<text class="l s" style="--p:44.25" x="-375" y="-2.5" text-anchor="middle">96.6%</text>
<text class="l s" style="--p:45.5" x="-395" y="-2.5" text-anchor="middle">88.6%</text>
<text class="l s" style="--p:44.5" x="-417" y="-2.5" text-anchor="middle">97.8%</text>
<text class="l s" style="--p:46.5" x="-417" y="-2.5" text-anchor="middle">100%</text>
<text class="l s" style="--p:60.72" x="-260" y="-2.5" text-anchor="middle">93.7%</text>
<text class="l s" style="--p:56.125" x="-300" y="-2.5" text-anchor="middle">98.7%</text>
<text class="l s" style="--p:54" x="-342" y="-2.5" text-anchor="middle">84.3%</text>
<text class="l s" style="--p:52.5" x="-375" y="-2.5" text-anchor="middle">99.9%</text>
<text class="l s" style="--p:51.5" x="-412" y="-2.5" text-anchor="middle">69.4%</text>
<text class="l s" style="--p:53.5" x="-410" y="-2.5" text-anchor="middle">97.2%</text>
<text class="l s" style="--p:55.5" x="-377" y="-2.5" text-anchor="middle">71.5%</text>
<text class="l s" style="--p:58.25" x="-360" y="-2.5" text-anchor="middle">100%</text>
<text class="l s" style="--p:65.3125" x="-300" y="-2.5" text-anchor="middle">99%</text>
<text class="l s" style="--p:63.25" x="-355" y="-2.5" text-anchor="middle">100%</text>
<text class="l s" style="--p:62" x="-402" y="-2.5" text-anchor="middle">79%</text>
<text class="l s" style="--p:64.5" x="-405" y="-2.5" text-anchor="middle">62.3%</text>
<text class="l s" style="--p:67.375" x="-352" y="-2.5" text-anchor="middle">99.6%</text>
<text class="l s" style="--p:68.75" x="-390" y="-2.5" text-anchor="middle">99.2%</text>
<text class="l s" style="--p:70.5" x="-422" y="-2.5" text-anchor="middle">94.7%</text>
<text class="l s" style="--p:77.75" x="-294" y="-2.5" text-anchor="middle">98.1%</text>
<text class="l s" style="--p:78.5" x="-395" y="-2.5" text-anchor="middle">100%</text>
<text class="l s" style="--p:102.17" x="-176" y="-2.5" text-anchor="middle">97.1%</text>
<text class="l s" style="--p:95.375" x="-204" y="-2.5" text-anchor="middle">81.1%</text>
<text class="l s" style="--p:92.75" x="-243" y="-2.5" text-anchor="middle">57%</text>
<text class="l s" style="--p:89.25" x="-277" y="-2.5" text-anchor="middle">98.8%</text>
<text class="l s" style="--p:85.5" x="-310" y="-2.5" text-anchor="middle">99.9%</text>
<text class="l s" style="--p:93" x="-322" y="-2.5" text-anchor="middle">98.2%</text>
<text class="l s" style="--p:82" x="-355" y="-2.5" text-anchor="middle">58.1%</text>
<text class="l s" style="--p:89" x="-360" y="-2.5" text-anchor="middle">54.2%</text>
<text class="l s" style="--p:80.5" x="-400" y="-2.5" text-anchor="middle">70.8%</text>
<text class="l s" style="--p:83.5" x="-390" y="-2.5" text-anchor="middle">67.3%</text>
<text class="l s" style="--p:92" x="-387" y="-2.5" text-anchor="middle">92.3%</text>
<text class="l s" style="--p:96.25" x="-297" y="-2.5" text-anchor="middle">100%</text>
<text class="l s" style="--p:95.5" x="-385" y="-2.5" text-anchor="middle">78%</text>
<text class="e s" style="--p:108.97" x="206" y="-2.5" text-anchor="middle">88.9%</text>
<text class="e s" style="--p:103.125" x="252" y="-2.5" text-anchor="middle">87.1%</text>
<text class="l s" style="--p:101.75" x="-300" y="-2.5" text-anchor="middle">92.9%</text>
<text class="l s" style="--p:100.5" x="-350" y="-2.5" text-anchor="middle">99.1%</text>
<text class="l s" style="--p:99.5" x="-405" y="-2.5" text-anchor="middle">96.8%</text>
<text class="l s" style="--p:101.5" x="-405" y="-2.5" text-anchor="middle">99.3%</text>
<text class="e s" style="--p:104.5" x="355" y="-2.5" text-anchor="middle">99.1%</text>
<text class="e s" style="--p:103" x="394" y="-2.5" text-anchor="middle">96.1%</text>
<text class="e s" style="--p:114.82" x="230" y="-2.5" text-anchor="middle">90.8%</text>
<text class="e s" style="--p:109.8125" x="255" y="-2.5" text-anchor="middle">98.7%</text>
<text class="e s" style="--p:108.625" x="327" y="-2.5" text-anchor="middle">99.8%</text>
<text class="e s" style="--p:107.25" x="392" y="-2.5" text-anchor="middle">100%</text>
<text class="e s" style="--p:106.5" x="422" y="-2.5" text-anchor="middle">76%</text>
<text class="e s" style="--p:119.835" x="242" y="-2.5" text-anchor="middle">97.2%</text>
<text class="e s" style="--p:113.5" x="275" y="-2.5" text-anchor="middle">100%</text>
<text class="e s" style="--p:112.5" x="370" y="-2.5" text-anchor="middle">99.8%</text>
<text class="e s" style="--p:114.5" x="370" y="-2.5" text-anchor="middle">100%</text>
<text class="e s" style="--p:126.17" x="257" y="-2.5" text-anchor="middle">100%</text>
<text class="e s" style="--p:121.75" x="282" y="-2.5" text-anchor="middle">100%</text>
<text class="e s" style="--p:119.5" x="315" y="-2.5" text-anchor="middle">97%</text>
<text class="e s" style="--p:117.5" x="350" y="-2.5" text-anchor="middle">96.9%</text>
<text class="e s" style="--p:116.5" x="395" y="-2.5" text-anchor="middle">70.7%</text>
<text class="e s" style="--p:118.5" x="395" y="-2.5" text-anchor="middle">74%</text>
<text class="e s" style="--p:121.5" x="350" y="-2.5" text-anchor="middle">97.8%</text>
<text class="e s" style="--p:120.5" x="400" y="-2.5" text-anchor="middle">100%</text>
<text class="e s" style="--p:122.5" x="400" y="-2.5" text-anchor="middle">100%</text>
<text class="e s" style="--p:130.59" x="280" y="-2.5" text-anchor="middle">100%</text>
<text class="e s" style="--p:128" x="312" y="-2.5" text-anchor="middle">99.9%</text>
<text class="e s" style="--p:127" x="355" y="-2.5" text-anchor="middle">63.5%</text>
<text class="e s" style="--p:126" x="400" y="-2.5" text-anchor="middle">97.8%</text>
<text class="e s" style="--p:133.1875" x="312" y="-2.5" text-anchor="middle">81.2%</text>
<text class="e s" style="--p:130.875" x="355" y="-2.5" text-anchor="middle">100%</text>
<text class="e s" style="--p:131.75" x="395" y="-2.5" text-anchor="middle">100%</text>
<text class="e s" style="--p:132.5" x="425" y="-2.5" text-anchor="middle">99.5%</text>
<text class="e s" style="--p:135.5" x="370" y="-2.5" text-anchor="middle">99.7%</text>
<text class="e s" style="--p:134.5" x="425" y="-2.5" text-anchor="middle">89.4%</text>
<text class="e s" style="--p:136.5" x="427" y="-2.5" text-anchor="middle">99%</text>
</g>
<g id="leaves">
<g id="leaf-1"><text class="e t" style="--p:1" x="474" y="4.3">Zm00001d019945_T001</text></g>
<g id="leaf-2"><text class="e t" style="--p:2" x="474" y="4.3">Zm00001d053798_T001</text></g>
<g id="leaf-3"><text class="e t" style="--p:3" x="474" y="4.3">Zm00001d053798_T006</text></g>
<g id="leaf-4"><text class="e t" style="--p:4" x="474" y="4.3">Zm00001d053798_T007</text></g>
<g id="leaf-5"><text class="e t" style="--p:5" x="474" y="4.3">Zm00001d053798_T002</text></g>
<g id="leaf-6"><text class="e t" style="--p:6" x="474" y="4.3">Zm00001d053798_T004</text></g>
<g id="leaf-7"><text class="e t" style="--p:7" x="474" y="4.3">Zm00001d053798_T003</text></g>
<g id="leaf-8"><text class="e t" style="--p:8" x="474" y="4.3">Os02t0171100-01</text></g>
<g id="leaf-9"><text class="e t" style="--p:9" x="474" y="4.3">Os06t0666600-01</text></g>
<g id="leaf-10"><text class="e t" style="--p:10" x="474" y="4.3">Bra008416.1</text></g>
<g id="leaf-11"><text class="e t" style="--p:11" x="474" y="4.3">CDY25342</text></g>
<g id="leaf-12"><text class="e t" style="--p:12" x="474" y="4.3">CDY22281</text></g>
<g id="leaf-13"><text class="e t" style="--p:13" x="474" y="4.3">Bo2g095350.1</text></g>
<g id="leaf-14"><text class="e t" style="--p:14" x="474" y="4.3">Bra003606.1</text></g>
<g id="leaf-15"><text class="e t" style="--p:15" x="474" y="4.3">CDX67990</text></g>
<g id="leaf-16"><text class="e t" style="--p:16" x="474" y="4.3">CDX79324</text></g>
<g id="leaf-17"><text class="e t" style="--p:17" x="474" y="4.3">Bo6g080970.1</text></g>
<g id="leaf-18"><text class="e t" style="--p:18" x="474" y="4.3">AT1G79530.1</text></g>
<g id="leaf-19"><text class="e t" style="--p:19" x="474" y="4.3">AT1G16300.1</text></g>
<g id="leaf-20"><text class="e t" style="--p:20" x="474" y="4.3">Bra026068.1</text></g>
<g id="leaf-21"><text class="e t" style="--p:21" x="474" y="4.3">CDY35080</text></g>
<g id="leaf-22"><text class="e t" style="--p:22" x="474" y="4.3">CDY33343</text></g>
<g id="leaf-23"><text class="e t" style="--p:23" x="474" y="4.3">Bo5g021670.1</text></g>
<g id="leaf-24"><text class="e t" style="--p:24" x="474" y="4.3">Solyc10g005510.3.1</text></g>
<g id="leaf-25"><text class="e t" style="--p:25" x="474" y="4.3">Bra019722.1</text></g>
<g id="leaf-26"><text class="e t" style="--p:26" x="474" y="4.3">CDX98100</text></g>
<g id="leaf-27"><text class="e t" style="--p:27" x="474" y="4.3">CDY30032</text></g>
<g id="leaf-28"><text class="e t" style="--p:28" x="474" y="4.3">Bo5g017500.1</text></g>
<g id="leaf-29"><text class="e t" style="--p:29" x="474" y="4.3">Bra016729.1</text></g>
<g id="leaf-30"><text class="e t" style="--p:30" x="474" y="4.3">CDY21098</text></g>
<g id="leaf-31"><text class="e t" style="--p:31" x="474" y="4.3">CDY50169</text></g>
<g id="leaf-32"><text class="e t" style="--p:32" x="474" y="4.3">Bo8g065470.1</text></g>
<g id="leaf-33"><text class="e t" style="--p:33" x="474" y="4.3">Bra026904.1</text></g>
<g id="leaf-34"><text class="e t" style="--p:34" x="474" y="4.3">CDY26651</text></g>
<g id="leaf-35"><text class="l t" style="--p:35" x="-474" y="4.3" text-anchor="end">CDY16090</text></g>
<g id="leaf-36"><text class="l t" style="--p:36" x="-474" y="4.3" text-anchor="end">Bo8g107420.1</text></g>
<g id="leaf-37"><text class="l t" style="--p:37" x="-474" y="4.3" text-anchor="end">CDX92059</text></g>
<g id="leaf-38"><text class="l t" style="--p:38" x="-474" y="4.3" text-anchor="end">Bo3g057250.1</text></g>
<g id="leaf-39"><text class="l t" style="--p:39" x="-474" y="4.3" text-anchor="end">CDX74199</text></g>
<g id="leaf-40"><text class="l t" style="--p:40" x="-474" y="4.3" text-anchor="end">Bra040146.1</text></g>
<g id="leaf-41"><text class="l t" style="--p:41" x="-474" y="4.3" text-anchor="end">CDY29987</text></g>
<g id="leaf-42"><text class="l t" style="--p:42" x="-474" y="4.3" text-anchor="end">CDY21135</text></g>
<g id="leaf-43"><text class="l t" style="--p:43" x="-474" y="4.3" text-anchor="end">Bo1g152180.1</text></g>
<g id="leaf-44"><text class="l t" style="--p:44" x="-474" y="4.3" text-anchor="end">Bra040213.1</text></g>
<g id="leaf-45"><text class="l t" style="--p:45" x="-474" y="4.3" text-anchor="end">CDY49358</text></g>
<g id="leaf-46"><text class="l t" style="--p:46" x="-474" y="4.3" text-anchor="end">CDY42906</text></g>
<g id="leaf-47"><text class="l t" style="--p:47" x="-474" y="4.3" text-anchor="end">Bo5g148380.1</text></g>
<g id="leaf-48"><text class="l t" style="--p:48" x="-474" y="4.3" text-anchor="end">AT3G04120.1</text></g>
<g id="leaf-49"><text class="l t" style="--p:49" x="-474" y="4.3" text-anchor="end">AT1G13440.2</text></g>
<g id="leaf-50"><text class="l t" style="--p:50" x="-474" y="4.3" text-anchor="end">AT1G13440.1</text></g>
<g id="leaf-51"><text class="l t" style="--p:51" x="-474" y="4.3" text-anchor="end">Zm00001d051001_T001</text></g>
<g id="leaf-52"><text class="l t" style="--p:52" x="-474" y="4.3" text-anchor="end">Zm00001d051001_T004</text></g>
<g id="leaf-53"><text class="l t" style="--p:53" x="-474" y="4.3" text-anchor="end">Zm00001d051001_T002</text></g>
<g id="leaf-54"><text class="l t" style="--p:54" x="-474" y="4.3" text-anchor="end">Zm00001d051001_T003</text></g>
<g id="leaf-55"><text class="l t" style="--p:55" x="-474" y="4.3" text-anchor="end">Zm00001d017121_T001</text></g>
<g id="leaf-56"><text class="l t" style="--p:56" x="-474" y="4.3" text-anchor="end">Zm00001d017121_T002</text></g>
<g id="leaf-57"><text class="l t" style="--p:57" x="-474" y="4.3" text-anchor="end">Os02t0601300-01</text></g>
<g id="leaf-58"><text class="l t" style="--p:58" x="-474" y="4.3" text-anchor="end">Os04t0486600-01</text></g>
<g id="leaf-59"><text class="l t" style="--p:59" x="-474" y="4.3" text-anchor="end">Os08t0126300-02</text></g>
<g id="leaf-60"><text class="l t" style="--p:60" x="-474" y="4.3" text-anchor="end">Os08t0126300-01</text></g>
<g id="leaf-61"><text class="l t" style="--p:61" x="-474" y="4.3" text-anchor="end">Zm00001d049641_T006</text></g>
<g id="leaf-62"><text class="l t" style="--p:62" x="-474" y="4.3" text-anchor="end">Zm00001d049641_T002</text></g>
<g id="leaf-63"><text class="l t" style="--p:63" x="-474" y="4.3" text-anchor="end">Zm00001d049641_T004</text></g>
<g id="leaf-64"><text class="l t" style="--p:64" x="-474" y="4.3" text-anchor="end">Zm00001d049641_T001</text></g>
<g id="leaf-65"><text class="l t" style="--p:65" x="-474" y="4.3" text-anchor="end">Zm00001d049641_T005</text></g>
<g id="leaf-66"><text class="l t" style="--p:66" x="-474" y="4.3" text-anchor="end">Zm00001d035156_T005</text></g>
<g id="leaf-67"><text class="l t" style="--p:67" x="-474" y="4.3" text-anchor="end">Zm00001d035156_T002</text></g>
<g id="leaf-68"><text class="l t" style="--p:68" x="-474" y="4.3" text-anchor="end">Zm00001d035156_T008</text></g>
<g id="leaf-69"><text class="l t" style="--p:69" x="-474" y="4.3" text-anchor="end">Zm00001d035156_T006</text></g>
<g id="leaf-70"><text class="l t" style="--p:70" x="-474" y="4.3" text-anchor="end">Zm00001d035156_T007</text></g>
<g id="leaf-71"><text class="l t" style="--p:71" x="-474" y="4.3" text-anchor="end">Zm00001d035156_T001</text></g>
<g id="leaf-72"><text class="l t" style="--p:72" x="-474" y="4.3" text-anchor="end">Zm00001d035156_T004</text></g>
<g id="leaf-73"><text class="l t" style="--p:73" x="-474" y="4.3" text-anchor="end">Zm00001d035156_T003</text></g>
<g id="leaf-74"><text class="l t" style="--p:74" x="-474" y="4.3" text-anchor="end">Solyc05g014470.3.1</text></g>
<g id="leaf-75"><text class="l t" style="--p:75" x="-474" y="4.3" text-anchor="end">Solyc05g014480.3.1</text></g>
<g id="leaf-76"><text class="l t" style="--p:76" x="-474" y="4.3" text-anchor="end">Solyc05g005820.3.1</text></g>
<g id="leaf-77"><text class="l t" style="--p:77" x="-474" y="4.3" text-anchor="end">Solyc03g111010.3.1</text></g>
<g id="leaf-78"><text class="l t" style="--p:78" x="-474" y="4.3" text-anchor="end">Solyc01g098950.2.1</text></g>
<g id="leaf-79"><text class="l t" style="--p:79" x="-474" y="4.3" text-anchor="end">Solyc06g071920.3.1</text></g>
<g id="leaf-80"><text class="l t" style="--p:80" x="-474" y="4.3" text-anchor="end">Zm00001d006862_T002</text></g>
<g id="leaf-81"><text class="l t" style="--p:81" x="-474" y="4.3" text-anchor="end">Zm00001d044057_T002</text></g>
<g id="leaf-82"><text class="l t" style="--p:82" x="-474" y="4.3" text-anchor="end">Zm00001d053790_T002</text></g>
<g id="leaf-83"><text class="l t" style="--p:83" x="-474" y="4.3" text-anchor="end">Zm00001d044057_T005</text></g>
<g id="leaf-84"><text class="l t" style="--p:84" x="-474" y="4.3" text-anchor="end">Zm00001d044057_T003</text></g>
<g id="leaf-85"><text class="l t" style="--p:85" x="-474" y="4.3" text-anchor="end">Zm00001d053790_T005</text></g>
<g id="leaf-86"><text class="l t" style="--p:86" x="-474" y="4.3" text-anchor="end">Zm00001d053790_T003</text></g>
<g id="leaf-87"><text class="l t" style="--p:87" x="-474" y="4.3" text-anchor="end">Zm00001d040584_T005</text></g>
<g id="leaf-88"><text class="l t" style="--p:88" x="-474" y="4.3" text-anchor="end">Zm00001d040584_T004</text></g>
<g id="leaf-89"><text class="l t" style="--p:89" x="-474" y="4.3" text-anchor="end">Zm00001d040584_T006</text></g>
<g id="leaf-90"><text class="l t" style="--p:90" x="-474" y="4.3" text-anchor="end">Zm00001d037609_T003</text></g>
<g id="leaf-91"><text class="l t" style="--p:91" x="-474" y="4.3" text-anchor="end">Zm00001d037609_T001</text></g>
<g id="leaf-92"><text class="l t" style="--p:92" x="-474" y="4.3" text-anchor="end">Zm00001d037609_T004</text></g>
<g id="leaf-93"><text class="l t" style="--p:93" x="-474" y="4.3" text-anchor="end">Zm00001d009524_T001</text></g>
<g id="leaf-94"><text class="l t" style="--p:94" x="-474" y="4.3" text-anchor="end">Zm00001d024575_T001</text></g>
<g id="leaf-95"><text class="l t" style="--p:95" x="-474" y="4.3" text-anchor="end">Bo2g075590.1</text></g>
<g id="leaf-96"><text class="l t" style="--p:96" x="-474" y="4.3" text-anchor="end">Bo02686s010.1</text></g>
<g id="leaf-97"><text class="l t" style="--p:97" x="-474" y="4.3" text-anchor="end">Zm00001d043859_T001</text></g>
<g id="leaf-98"><text class="l t" style="--p:98" x="-474" y="4.3" text-anchor="end">Zm00001d040387_T001</text></g>
<g id="leaf-99"><text class="l t" style="--p:99" x="-474" y="4.3" text-anchor="end">Bra034927.1</text></g>
<g id="leaf-100"><text class="l t" style="--p:100" x="-474" y="4.3" text-anchor="end">CDY35800</text></g>
<g id="leaf-101"><text class="l t" style="--p:101" x="-474" y="4.3" text-anchor="end">CDY69523</text></g>
<g id="leaf-102"><text class="l t" style="--p:102" x="-474" y="4.3" text-anchor="end">Bo8g024290.1</text></g>
<g id="leaf-103"><text class="e t" style="--p:103" x="474" y="4.3">AT1G42970.1</text></g>
<g id="leaf-104"><text class="e t" style="--p:104" x="474" y="4.3">Solyc04g082630.3.1</text></g>
<g id="leaf-105"><text class="e t" style="--p:105" x="474" y="4.3">Solyc12g094640.2.1</text></g>
<g id="leaf-106"><text class="e t" style="--p:106" x="474" y="4.3">Zm00001d025601_T001</text></g>
<g id="leaf-107"><text class="e t" style="--p:107" x="474" y="4.3">Zm00001d025599_T001</text></g>
<g id="leaf-108"><text class="e t" style="--p:108" x="474" y="4.3">Zm00001d025593_T001</text></g>
<g id="leaf-109"><text class="e t" style="--p:109" x="474" y="4.3">Zm00001d025607_T001</text></g>
<g id="leaf-110"><text class="e t" style="--p:110" x="474" y="4.3">Zm00001d003429_T001</text></g>
<g id="leaf-111"><text class="e t" style="--p:111" x="474" y="4.3">Os04t0459500-02</text></g>
<g id="leaf-112"><text class="e t" style="--p:112" x="474" y="4.3">Zm00001d027488_T001</text></g>
<g id="leaf-113"><text class="e t" style="--p:113" x="474" y="4.3">Os03t0129300-01</text></g>
<g id="leaf-114"><text class="e t" style="--p:114" x="474" y="4.3">Solyc04g009030.3.1</text></g>
<g id="leaf-115"><text class="e t" style="--p:115" x="474" y="4.3">Solyc02g020940.3.1</text></g>
<g id="leaf-116"><text class="e t" style="--p:116" x="474" y="4.3">Bra025219.1</text></g>
<g id="leaf-117"><text class="e t" style="--p:117" x="474" y="4.3">CDY13649</text></g>
<g id="leaf-118"><text class="e t" style="--p:118" x="474" y="4.3">CDX83635</text></g>
<g id="leaf-119"><text class="e t" style="--p:119" x="474" y="4.3">Bo7g083800.1</text></g>
<g id="leaf-120"><text class="e t" style="--p:120" x="474" y="4.3">Bra032939.1</text></g>
<g id="leaf-121"><text class="e t" style="--p:121" x="474" y="4.3">CDY48981</text></g>
<g id="leaf-122"><text class="e t" style="--p:122" x="474" y="4.3">CDY28536</text></g>
<g id="leaf-123"><text class="e t" style="--p:123" x="474" y="4.3">Bo00285s370.1</text></g>
<g id="leaf-124"><text class="e t" style="--p:124" x="474" y="4.3">AT3G26650.1</text></g>
<g id="leaf-125"><text class="e t" style="--p:125" x="474" y="4.3">AT1G12900.5</text></g>
<g id="leaf-126"><text class="e t" style="--p:126" x="474" y="4.3">AT1G12900.1</text></g>
<g id="leaf-127"><text class="e t" style="--p:127" x="474" y="4.3">AT1G12900.2</text></g>
<g id="leaf-128"><text class="e t" style="--p:128" x="474" y="4.3">AT1G12900.4</text></g>
<g id="leaf-129"><text class="e t" style="--p:129" x="474" y="4.3">AT1G12900.3</text></g>
<g id="leaf-130"><text class="e t" style="--p:130" x="474" y="4.3">Bra026948.1</text></g>
<g id="leaf-131"><text class="e t" style="--p:131" x="474" y="4.3">CDY26599</text></g>
<g id="leaf-132"><text class="e t" style="--p:132" x="474" y="4.3">CDY16038</text></g>
<g id="leaf-133"><text class="e t" style="--p:133" x="474" y="4.3">Bo8g107880.1</text></g>
<g id="leaf-134"><text class="e t" style="--p:134" x="474" y="4.3">Bra019797.1</text></g>
<g id="leaf-135"><text class="e t" style="--p:135" x="474" y="4.3">CDX98028</text></g>
<g id="leaf-136"><text class="e t" style="--p:136" x="474" y="4.3">CDY19412</text></g>
<g id="leaf-137"><text class="e t" style="--p:137" x="474" y="4.3">Bo5g016460.1</text></g>
</g>
<g id="scale-bar">
<line x1="1627" y1="3450" x2="1744" y2="3450" stroke="#000" stroke-width="3"/>
<text x="1685" y="3498" text-anchor="middle" font-family="Liberation Sans, Arial, sans-serif" font-size="22">2.0</text>
</g>
</svg>
